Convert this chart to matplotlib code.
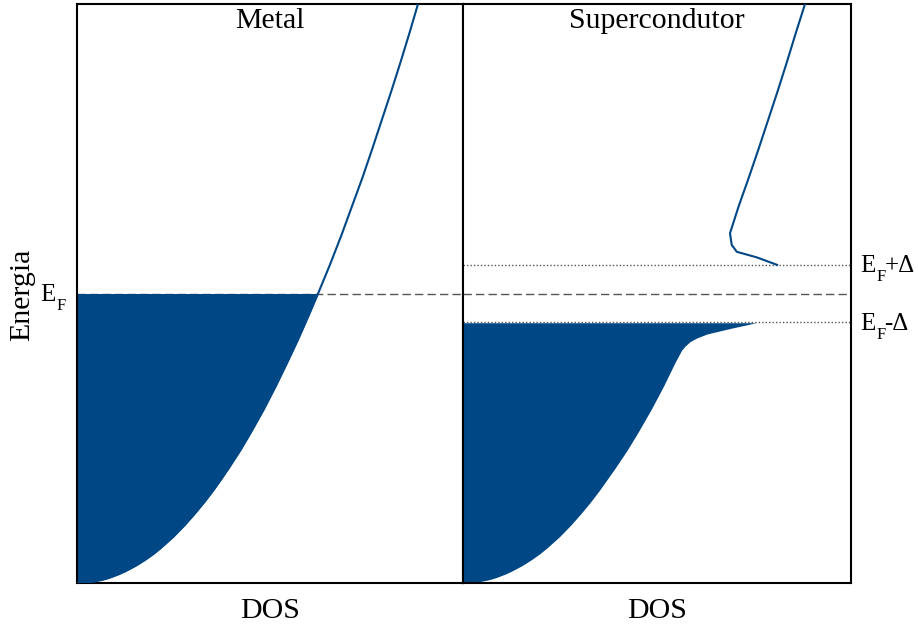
import matplotlib
matplotlib.use("Agg")
import matplotlib.pyplot as plt
import matplotlib.transforms as mtransforms

plt.rcParams['font.family'] = ['Liberation Serif', 'DejaVu Serif']

BLUE = '#004785'
GREY = '#555555'

# energy scale (0 = band bottom, 1 = top of plot)
e_fermi = 0.5
gap = 0.05

# normal metal: DOS vs energy
energy_normal = [0, 0.001, 0.0025, 0.005, 0.0075, 0.01, 0.015, 0.02, 0.03, 0.04,
                 0.05, 0.06, 0.08, 0.1, 0.12, 0.14, 0.16, 0.18, 0.2, 0.23, 0.26,
                 0.3, 0.34, 0.38, 0.42, 0.46, 0.5, 0.55, 0.6, 0.65, 0.7, 0.75,
                 0.8, 0.85, 0.9, 0.95, 1.0]
dos_normal = [0, 0.032, 0.050, 0.071, 0.087, 0.100, 0.122, 0.141, 0.173, 0.200,
              0.224, 0.245, 0.283, 0.316, 0.346, 0.374, 0.400, 0.424, 0.447, 0.480,
              0.510, 0.548, 0.583, 0.616, 0.648, 0.678, 0.707, 0.742, 0.775, 0.806,
              0.837, 0.866, 0.894, 0.922, 0.949, 0.975, 1.000]

# superconductor: occupied band below the gap
energy_sc_low = [0, 0.001, 0.0025, 0.005, 0.0075, 0.01, 0.015, 0.02, 0.03, 0.04,
                 0.05, 0.06, 0.08, 0.1, 0.12, 0.14, 0.16, 0.18, 0.2, 0.23, 0.26,
                 0.3, 0.34, 0.38, 0.402, 0.409, 0.417, 0.423, 0.430, 0.440, 0.4495]
dos_sc_low = [0, 0.032, 0.050, 0.071, 0.087, 0.100, 0.122, 0.141, 0.173, 0.200,
              0.224, 0.245, 0.283, 0.316, 0.346, 0.374, 0.400, 0.424, 0.448, 0.482,
              0.513, 0.552, 0.588, 0.621, 0.641, 0.651, 0.666, 0.685, 0.715, 0.786,
              0.860]

# superconductor: empty band above the gap
energy_sc_high = [0.5495, 0.5625, 0.572, 0.584, 0.604, 0.65, 0.7, 0.75, 0.8,
                  0.85, 0.9, 0.95, 1.0]
dos_sc_high = [0.921, 0.861, 0.803, 0.788, 0.783, 0.808, 0.838, 0.867, 0.895,
               0.923, 0.950, 0.976, 1.003]

fig = plt.figure(figsize=(9.18, 6.3), dpi=100)
ax_m = fig.add_axes([77 / 918, 47 / 630, 386 / 918, 579 / 630])
ax_s = fig.add_axes([463 / 918, 47 / 630, 388 / 918, 579 / 630])

for ax, width in ((ax_m, 386), (ax_s, 388)):
    ax.set_xlim(0, width / 341)
    ax.set_ylim(0, 1)
    ax.set_xticks([])
    ax.set_yticks([])
    for sp in ax.spines.values():
        sp.set_linewidth(1.5)
    ax.set_xlabel('DOS', fontsize=21.5, labelpad=11)
    ax.axhline(e_fermi, color=GREY, lw=1.0, dashes=(6, 3), zorder=1)

# metal
n_fill = energy_normal.index(e_fermi) + 1
ax_m.fill_betweenx(energy_normal[:n_fill], 0, dos_normal[:n_fill],
                   color=BLUE, lw=0, zorder=2)
ax_m.plot(dos_normal, energy_normal, color=BLUE, lw=1.5, zorder=3)
ax_m.text(0.5, 0.993, 'Metal', transform=ax_m.transAxes, ha='center', va='top',
          fontsize=21.5)

# superconductor
ax_s.axhline(e_fermi + gap, color=GREY, lw=1.0, dashes=(1, 1.5), zorder=1)
ax_s.axhline(e_fermi - gap, color=GREY, lw=1.0, dashes=(1, 1.5), zorder=1)
ax_s.fill_betweenx(energy_sc_low, 0, dos_sc_low, color=BLUE, lw=0, zorder=2)
ax_s.plot(dos_sc_high, energy_sc_high, color=BLUE, lw=1.5, zorder=3)
ax_s.text(0.5, 0.993, 'Supercondutor', transform=ax_s.transAxes, ha='center',
          va='top', fontsize=21.5)


def level_label(ax, x, y, dx, suffix='', ha='left'):
    """E with a subscript F (and optional suffix), anchored at the axes edge."""
    tr = mtransforms.blended_transform_factory(ax.transAxes, ax.transData)
    size = 18
    if ha == 'left':
        offs = [(dx, -5.3, 'E', size), (dx + 11.6, -11.6, 'F', 12),
                (dx + 17.6, -5.3, suffix, size)]
    else:
        offs = [(dx - 7.2, -5.3, 'E', size), (dx, -11.6, 'F', 12)]
    for ox, oy, s, fs in offs:
        if s:
            ax.annotate(s, xy=(x, y), xycoords=tr, xytext=(ox, oy),
                        textcoords='offset points', ha=ha, va='baseline',
                        fontsize=fs)


level_label(ax_m, 0, e_fermi, -8.0, ha='right')
level_label(ax_s, 1, e_fermi + gap, 6.5, '+Δ')
level_label(ax_s, 1, e_fermi - gap, 6.5, '-Δ')

fig.text(22 / 918, 1 - 295 / 630, 'Energia', rotation=90, ha='center',
         va='center', fontsize=21.5)

fig.savefig('out.png', dpi=100)
